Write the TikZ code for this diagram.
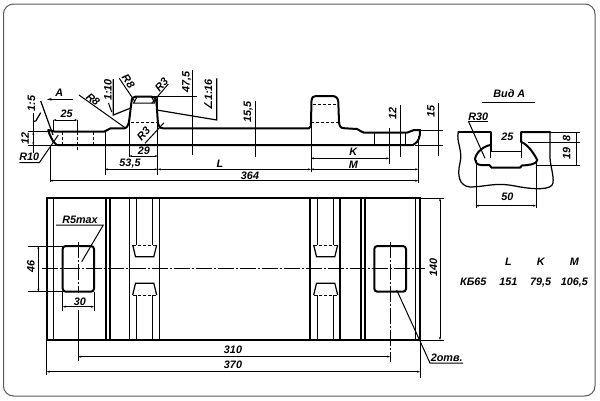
\documentclass[tikz,border=0pt]{standalone}
\usepackage{fontspec}
\setmainfont{Liberation Sans}
\newfontfamily\symfont{DejaVu Sans}
\usetikzlibrary{arrows.meta}
\tikzset{
  heavy/.style={line width=2pt,line join=round,line cap=round},
  medium/.style={line width=1.25pt,line join=round},
  thin1/.style={line width=1pt},
  hid/.style={line width=1pt,dash pattern=on 3pt off 2pt},
  axis/.style={line width=.9pt,dash pattern=on 16pt off 2pt on 2pt off 2pt},
  dim/.style={line width=1pt,{Stealth[length=3pt,width=2pt]}-{Stealth[length=3pt,width=2pt]}},
  lab/.style={font=\fontsize{10.8}{12}\selectfont\bfseries\itshape,inner sep=0pt},
  vlab/.style={lab,rotate=90},
}
\begin{document}
\begin{tikzpicture}[x=1pt,y=-1pt]
\useasboundingbox (0,0) rectangle (600,400);
\fill[white] (0,0) rectangle (600,400);
\draw[line width=1pt,black!65,rounded corners=10pt] (3.5,4) rectangle (595,396);

% --- profile (top view)
\draw[heavy] (48.3,130) -- (55,131.7) -- (104,131.7) -- (110.7,128.3) -- (125,128.3)
  .. controls (128,127) and (129,123) .. (129.5,118) -- (131.5,101.7)
  .. controls (132,98) and (133,96.5) .. (136,96.5) -- (151,96.5)
  .. controls (154,96.5) and (156,98) .. (156.5,102) -- (157.7,120)
  .. controls (158,125) and (159,128.3) .. (163,128.3) -- (309,128.3)
  .. controls (311,128) and (311,125) .. (311,122) -- (311.5,101)
  .. controls (312,97) and (313,96) .. (316,96) -- (332,96)
  .. controls (336,96) and (338,98) .. (338.3,102) -- (339,122)
  .. controls (339.5,126) and (340,128.3) .. (345,128.3) -- (357,129)
  .. controls (360,129.5) and (361,132.7) .. (364,132.7) -- (407,132.7)
  .. controls (410,132.7) and (411,130) .. (414,130) -- (420,130)
  .. controls (420.5,136) and (419,142) .. (413,145) -- (57,145)
  .. controls (54,143) and (52,140) .. (49.5,134) -- cycle;
% hidden lines in the profile
\draw[hid] (131,122) -- (157.5,122) (313,104) -- (338,104) (311,122.3) -- (339,122.3);
\draw[thin1] (133,103) -- (155,103) (133.5,103) -- (137,97) (155,103) -- (151.5,97);
\draw[hid] (62.7,132) -- (62.7,145) (93.3,132) -- (93.3,145) (77.3,132) -- (77.3,150);
\draw[thin1] (374.3,132.7) -- (374.3,145) (405,132.7) -- (405,145);

% extension lines, top view
\draw[thin1] (28,131.7) -- (50,131.7) (28,145) -- (56,145);
\draw[thin1] (33.3,113) -- (33.3,153);
\draw[thin1] (50,145) -- (50,181.7);
\draw[thin1] (105,131) -- (105,175);
\draw[thin1] (129.3,120) -- (129.3,157);
\draw[thin1] (157.7,96) -- (157.7,175);
\draw[thin1] (311,123) -- (311,171.7);
\draw[thin1] (389.3,128.3) -- (389.3,164);
\draw[thin1] (418.3,136) -- (418.3,182.7);
\draw[thin1] (53.3,120) -- (53.3,132) (77.3,120) -- (77.3,132);
\draw[line width=1.2pt] (192.7,70) -- (192.7,155);
\draw[thin1] (153,96) -- (196.7,96);
\draw[line width=1.2pt] (216.7,78.3) -- (216.7,120) -- (156.7,110);
\draw[line width=1.2pt] (255.7,100.7) -- (255.7,156.7);
\draw[line width=1.2pt] (400.7,105) -- (400.7,157.3);
\draw[line width=1.2pt] (438.3,103.3) -- (438.3,156);
\draw[thin1] (420,130) -- (442.7,130) (415,145) -- (442.7,145);
\draw[line width=1.2pt] (40.7,101) -- (53,135);
\draw[line width=1.2pt] (33.3,121.7) -- (36,120.7) -- (40.7,112.7);

% 1:10 mark and leaders
\draw[line width=1.2pt] (113.3,79) -- (113.3,115) -- (130,108.3);
\draw[thin1] (108.5,103) -- (111.7,112);
\draw[thin1] (79,95) -- (125,127.7);
\draw[thin1] (119.3,78.3) -- (135,101.7);
\draw[thin1] (168.3,84) -- (151.7,103.3);
\draw[thin1] (145,143.3) -- (164,122.7);
\draw[thin1] (19.3,162.7) -- (39.3,162.7) -- (58.3,135);
\draw[line width=1.1pt,-{Stealth[length=5pt,width=2.5pt]}] (73.3,99.3) -- (46.7,99.3);

% dimension lines, top view
\draw[dim] (33.3,131.7) -- (33.3,145);
\draw[dim] (53.3,120) -- (77.3,120);
\draw[dim] (129.3,156) -- (157.7,156);
\draw[dim] (105,169.3) -- (157.7,169.3);
\draw[dim] (157.7,169.3) -- (311,169.3);
\draw[dim] (311,169.3) -- (418.3,169.3);
\draw[dim] (311,158.3) -- (389.3,158.3);
\draw[dim] (50,180.7) -- (418.3,180.7);

\node[lab] (tA) at (59.3,92.5) {A};
\node[lab] (t25a) at (66.7,114) {25};
\node[vlab] (t15) at (31.5,103.5) {1:5};
\node[vlab] (t12a) at (25,138) {12};
\node[lab] (tR10) at (29.3,157) {R10};
\node[lab,rotate=-38] (tR8a) at (93,99.5) {R8};
\node[vlab] (t110) at (108,90) {1:10};
\node[lab,rotate=-55] (tR8b) at (128.5,81.5) {R8};
\node[lab,rotate=48] (tR3a) at (161.5,85) {R3};
\node[lab,rotate=48] (tR3b) at (143.5,134) {R3};
\node[vlab] (t475) at (186.7,81.7) {47,5};
\node[vlab] (t116) at (208.3,95) {{\symfont ∠}1:16};
\node[lab] (t29) at (144,150.7) {29};
\node[lab] (t535) at (130,164) {53,5};
\node[lab] (tL) at (220,164) {L};
\node[lab] (t364) at (250,176) {364};
\node[vlab] (t155) at (248.3,111.7) {15,5};
\node[lab] (tK) at (353.3,152) {K};
\node[lab] (tM) at (353.3,165) {M};
\node[vlab] (t12b) at (392.7,113.3) {12};
\node[vlab] (t15b) at (431,111.7) {15};

% --- plan view
\draw[line width=2pt] (46.7,198.3) rectangle (420,340);
\draw[medium] (53.3,198.3) -- (53.3,340) (106,198.3) -- (106,340) (110,198.3) -- (110,340)
  (129.3,198.3) -- (129.3,340) (159.3,198.3) -- (159.3,340)
  (310,198.3) -- (310,340) (340,198.3) -- (340,340)
  (361,198.3) -- (361,340) (365,198.3) -- (365,340) (415.7,198.3) -- (415.7,340);
% slots and the inner lines that stop at them
\foreach \d in {0,181}{
  \begin{scope}[xshift=\d pt]
  \draw[medium] (136.2,198.3) -- (136.2,245) (152.7,198.3) -- (152.7,245)
    (136.2,295) -- (136.2,340) (152.7,295) -- (152.7,340);
  \draw[hid] (132.7,245) -- (156.7,245) (132.7,295) -- (156.7,295);
  \draw[line width=1.25pt] (132.7,245) -- (135.5,256.7) -- (153.8,256.7) -- (156.7,245);
  \draw[line width=1.25pt] (132.7,295) -- (135.5,283.3) -- (153.8,283.3) -- (156.7,295);
  \end{scope}
}
% holes
\draw[line width=2pt,rounded corners=3pt,fill=white] (62.7,246) rectangle (94,291.7);
\draw[line width=2pt,rounded corners=3pt,fill=white] (374.3,246) rectangle (406,291.7);
% axes
\draw[axis] (41.7,268.3) -- (425,268.3);
\draw[axis] (78.3,241.7) -- (78.3,293);
\draw[thin1] (78.3,310) -- (78.3,361);
\draw[axis] (390,241.7) -- (390,361.7);
% dimensions plan
\draw[thin1] (28,246) -- (62.7,246) (28,291.7) -- (62.7,291.7);
\draw[dim] (38.3,246) -- (38.3,291.7);
\draw[thin1] (62.7,291.7) -- (62.7,310.7) (94,291.7) -- (94,310.7);
\draw[dim] (62.7,306.7) -- (94,306.7);
\draw[dim] (78.3,356.7) -- (390,356.7);
\draw[thin1] (46.7,340) -- (46.7,375) (420,340) -- (420,378);
\draw[dim] (46.7,371.7) -- (420,371.7);
\draw[thin1] (420,198.3) -- (444,198.3) (420,340) -- (444,340);
\draw[dim] (440,198.3) -- (440,340);
\draw[thin1] (56,225) -- (103.3,225) -- (81.7,261.7);
\draw[thin1] (396.7,290) -- (430,363) -- (463,363);

\node[lab] (tR5) at (80,220) {R5max};
\node[vlab] (t46) at (31,266.7) {46};
\node[lab] (t30) at (80,301.7) {30};
\node[lab] (t310) at (233,349.3) {310};
\node[lab] (t370) at (233,364.7) {370};
\node[vlab] (t140) at (433.3,267.7) {140};
\node[lab] (t2) at (446.7,358) {2отв.};

% --- view A
\node[lab] (tVid) at (509.3,94) {Вид А};
\draw[line width=1.3pt] (482.3,102.7) -- (535,102.7);
\draw[medium] (458.3,132) .. controls (456,142) and (463,150) .. (460,163)
  .. controls (457,175) and (459,186) .. (470,187)
  .. controls (485,187) and (495,182) .. (515,186)
  .. controls (535,190) and (552,190) .. (553,183)
  .. controls (554,175) and (550,165) .. (550,157) -- (550,132);
\draw[heavy] (458.3,132) -- (490.7,132) -- (490.7,151);
\draw[heavy] (550,132) -- (521,132) -- (521,141.7)
  .. controls (528,145) and (533,152) .. (537.3,160)
  .. controls (537,164) and (530,165) .. (522,165.5) -- (520,167.7) -- (491.7,167.7) -- (489.3,165) -- (481,165)
  .. controls (477,165) and (475,162) .. (475,159)
  .. controls (476,152) and (484,146) .. (490.5,145);
\draw[thin1] (490.7,151.7) -- (521,151.7) (521,141) -- (521,158);
\draw[thin1] (490.7,151) -- (490.7,158);
\draw[thin1] (468.3,121) -- (485,158.3);
\draw[thin1] (468.3,121) -- (488,121);
\draw[thin1] (476,160) -- (476,208) (536,160) -- (536,208);
\draw[dim] (476,205.7) -- (536,205.7);
\draw[thin1] (550,132) -- (580,132) (528,142.7) -- (580,142.7) (537,165) -- (580,165);
\draw[thin1] (576,132) -- (576,166);
\node[lab] (tR30) at (478.3,116.5) {R30};
\node[lab] (t25b) at (507.3,136.7) {25};
\node[lab] (t50) at (507.3,196.7) {50};
\node[vlab] (t8) at (566.7,138) {8};
\node[vlab] (t19) at (566.7,153.3) {19};

% --- table
\node[lab,anchor=base] (hL) at (508.3,265.5) {L};
\node[lab,anchor=base] (hK) at (540.7,265.5) {K};
\node[lab,anchor=base] (hM) at (574.3,265.5) {M};
\node[lab,anchor=base] (c0) at (473.3,285.5) {КБ65};
\node[lab,anchor=base] (c1) at (508.3,285.5) {151};
\node[lab,anchor=base] (c2) at (540.7,285.5) {79,5};
\node[lab,anchor=base] (c3) at (574.3,285.5) {106,5};
\end{tikzpicture}
\end{document}
